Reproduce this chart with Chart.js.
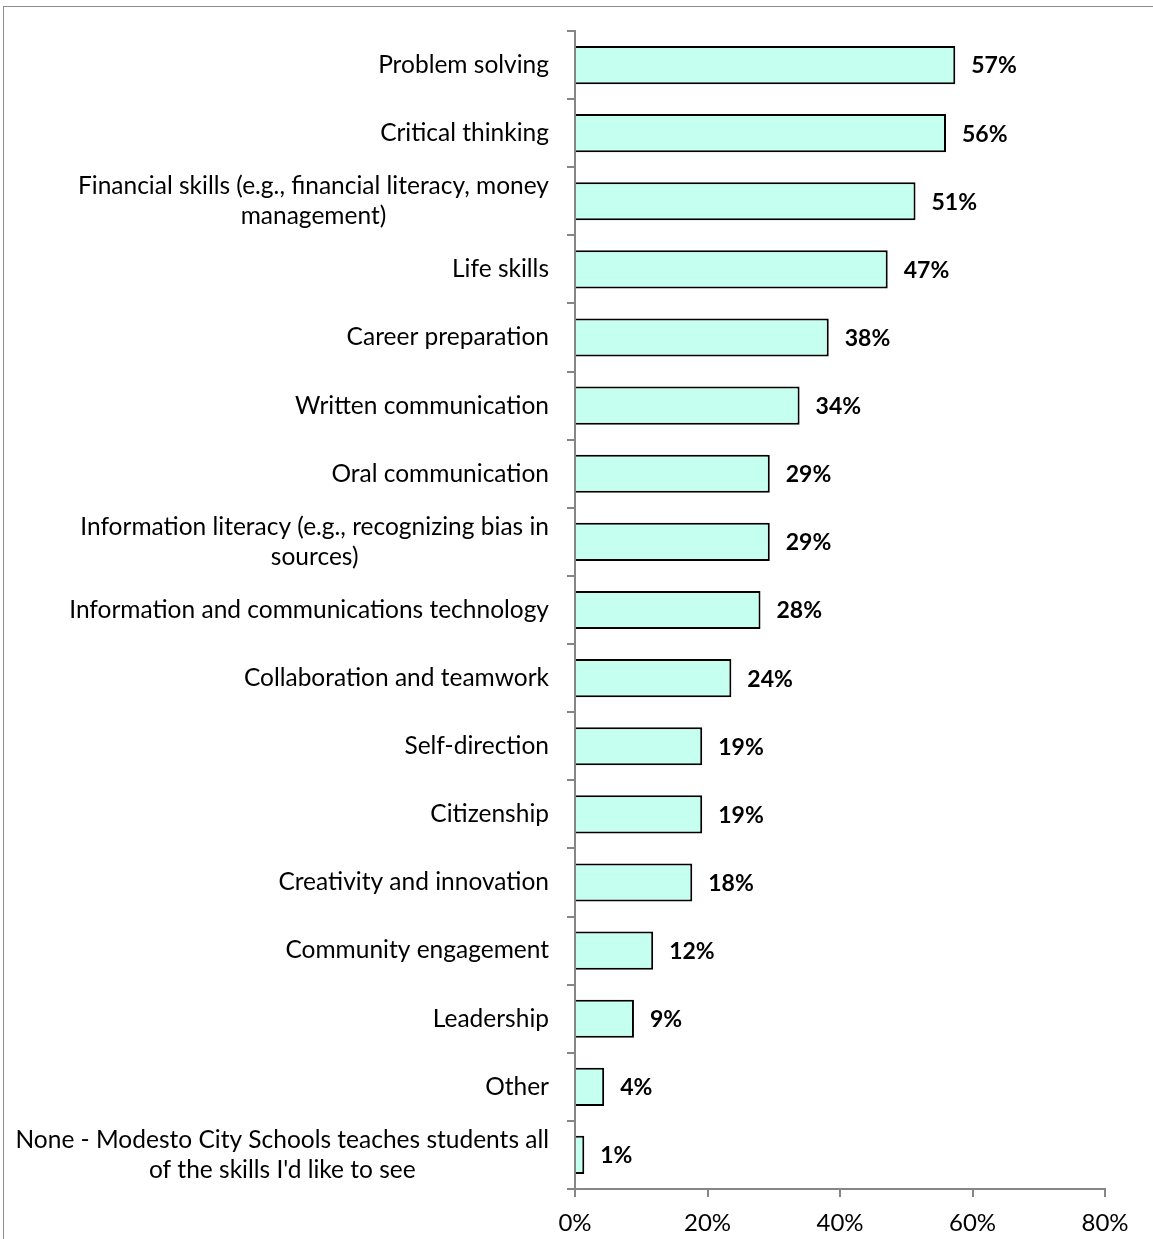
<!DOCTYPE html>
<html>
<head>
<meta charset="utf-8">
<script src="https://cdn.jsdelivr.net/npm/chart.js@4/dist/chart.umd.min.js"></script>
<style>
  html, body { margin: 0; padding: 0; background: #fff; }
  #wrap { position: relative; width: 1153px; height: 1239px; overflow: hidden; }
  #frame {
    position: absolute; left: 3px; top: 6px; width: 1200px; height: 1300px;
    border-top: 1px solid #8c8c8c; border-left: 1px solid #8c8c8c;
  }
  #canvas { position: absolute; left: 0; top: 0; }
</style>
</head>
<body>
<div id="wrap">
  <div id="frame"></div>
  <canvas id="canvas" width="1153" height="1239"></canvas>
</div>
<script>
// skills students would like to see taught (share of respondents, %)
let skills = [
  'Problem solving',
  'Critical thinking',
  ['Financial skills (e.g., financial literacy, money', 'management)'],
  'Life skills',
  'Career preparation',
  'Written communication',
  'Oral communication',
  ['Information literacy (e.g., recognizing bias in', 'sources)'],
  'Information and communications technology',
  'Collaboration and teamwork',
  'Self-direction',
  'Citizenship',
  'Creativity and innovation',
  'Community engagement',
  'Leadership',
  'Other',
  ['None - Modesto City Schools teaches students all', 'of the skills I\'d like to see']
];

let shares = [57.4, 56.0, 51.4, 47.2, 38.3, 33.9, 29.4, 29.4, 28.0, 23.6, 19.2, 19.2, 17.7, 11.8, 8.9, 4.4, 1.4];

let xTicks = [0, 20, 40, 60, 80];

let fontFamily = 'Lato, "Open Sans", sans-serif';
let labelSize = 24.5;

// bold value labels past the end of each bar, and the category
// labels (multi-line ones centred on their widest line, like Excel)
let labelsPlugin = {
  id: 'labelsPlugin',
  afterDatasetsDraw(chart) {
    let ctx = chart.ctx;
    let meta = chart.getDatasetMeta(0);
    let yScale = chart.scales.y;
    ctx.save();
    ctx.fillStyle = '#000';
    ctx.textBaseline = 'middle';

    ctx.font = 'bold 23px ' + fontFamily;
    ctx.textAlign = 'left';
    meta.data.forEach(function(bar, i) {
      ctx.fillText(Math.round(shares[i]) + '%', bar.x + 16, bar.y + 1);
    });

    ctx.font = labelSize + 'px ' + fontFamily;
    ctx.textAlign = 'center';
    let right = yScale.right - 26;
    let lineH = 30;
    skills.forEach(function(lab, i) {
      let lines = Array.isArray(lab) ? lab : [lab];
      let maxW = Math.max(...lines.map(l => ctx.measureText(l).width));
      let cx = right - maxW / 2;
      let cy = yScale.getPixelForValue(i);
      let y0 = cy - (lines.length - 1) * lineH / 2;
      lines.forEach(function(l, j) {
        ctx.fillText(l, cx, y0 + j * lineH);
      });
    });
    ctx.restore();
  }
};

let options = {
  type: 'bar',
  data: {
    labels: skills,
    datasets: [{
      data: shares,
      backgroundColor: 'rgb(196,255,240)',
      borderColor: '#000',
      borderWidth: 2,
      borderSkipped: 'left',
      categoryPercentage: 1,
      barPercentage: 0.56
    }]
  },
  options: {
    indexAxis: 'y',
    responsive: false,
    animation: false,
    layout: { padding: { top: 31, right: 48, left: 0, bottom: 0 } },
    plugins: {
      legend: { display: false },
      tooltip: { enabled: false }
    },
    scales: {
      x: {
        min: 0,
        max: 80,
        afterBuildTicks: function(scale) {
          scale.ticks = xTicks.map(v => ({ value: v }));
        },
        afterFit: function(scale) { scale.height = 1239 - 1189; },
        border: { color: '#868686', width: 2 },
        grid: { drawOnChartArea: false, color: '#868686', tickLength: 8, lineWidth: 2 },
        ticks: {
          color: '#000',
          padding: 12,
          maxRotation: 0,
          font: { family: fontFamily, size: 24 },
          callback: v => v + '%'
        }
      },
      y: {
        afterFit: function(scale) { scale.width = 575; },
        border: { color: '#868686', width: 2 },
        grid: { drawOnChartArea: false, color: '#868686', tickLength: 8, lineWidth: 2, offset: true },
        ticks: { display: false, autoSkip: false }
      }
    }
  },
  plugins: [labelsPlugin]
};

let chart = new Chart(document.getElementById('canvas'), options);
</script>
</body>
</html>
